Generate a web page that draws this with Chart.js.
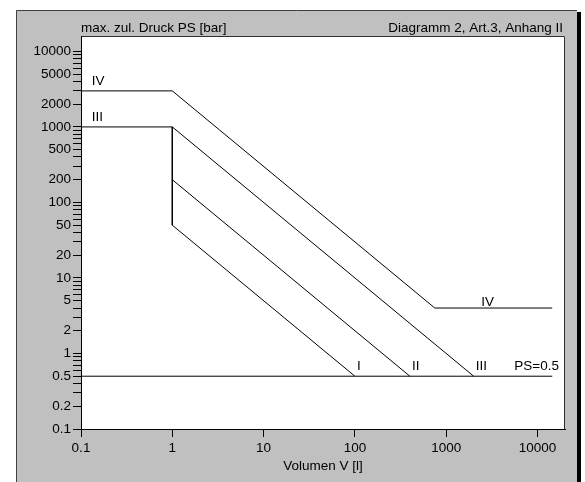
<!DOCTYPE html>
<html>
<head>
<meta charset="utf-8">
<script src="https://cdn.jsdelivr.net/npm/chart.js@4"></script>
<style>
  html, body { margin: 0; padding: 0; background: #fff; }
  canvas { display: block; }
</style>
</head>
<body>
<canvas id="diagramm" width="585" height="482"></canvas>
<script>
// Linien des Diagramms (Volumen V in l, Druck PS in bar)
const linieGrenzeX = [0.1, 14500]
const linieGrenzeY = [0.5, 0.5]
const kurveIX = [1, 100]
const kurveIY = [50, 0.5]
const kurveIIX = [1, 400]
const kurveIIY = [200, 0.5]
const kurveIIIX = [0.1, 1, 2000]
const kurveIIIY = [1000, 1000, 0.5]
const kurveIVX = [0.1, 1, 750, 14500]
const kurveIVY = [3000, 3000, 4, 4]
const senkrechtX = [1, 1]
const senkrechtY = [1000, 50]

// Beschriftungen der Kurven
const namen = ['IV', 'III', 'IV', 'I', 'II', 'III', 'PS=0.5']
const namenX = [0.125, 0.125, 2300, 100, 400, 2000, 5300]
const namenY = [3000, 1000, 3.5, 0.5, 0.5, 0.5, 0.5]

// Achsen
const xTicks = [0.1, 1, 10, 100, 1000, 10000]
const yDekaden = [0.1, 1, 10, 100, 1000]
const yMantissen = [1, 2, 3, 4, 5, 6, 7, 8, 9]
const yBeschriftet = [1, 2, 5]

const familie = "'Liberation Sans', Arial, sans-serif"
const schrift = "13.5px " + familie

function punkte(xs, ys){
  return xs.map((x, i) => ({x: x, y: ys[i]}))
}

function linie(xs, ys){
  return {
    data: punkte(xs, ys),
    borderColor: '#000',
    borderWidth: 1,
    pointRadius: 0,
    tension: 0,
    fill: false
  }
}

let yTickWerte = []
yDekaden.forEach((d) => {
  yMantissen.forEach((m) => {
    yTickWerte.push(parseFloat((m * d).toPrecision(3)))
  })
})
yTickWerte.push(10000)

// grauer Rahmen und weisse Zeichenflaeche
const hintergrund = {
  id: 'hintergrund',
  beforeDraw(chart){
    const ctx = chart.ctx
    const a = chart.chartArea
    ctx.save()
    ctx.fillStyle = '#fff'
    ctx.fillRect(0, 0, chart.width, chart.height)
    ctx.fillStyle = '#c0c0c0'
    ctx.fillRect(16, 10, 561, chart.height - 10)
    ctx.strokeStyle = '#404040'
    ctx.lineWidth = 1
    ctx.beginPath()
    ctx.moveTo(16.5, chart.height)
    ctx.lineTo(16.5, 10.5)
    ctx.lineTo(577, 10.5)
    ctx.stroke()
    ctx.fillStyle = '#000'
    ctx.fillRect(577, 12, 4, chart.height - 12)
    ctx.fillStyle = '#fff'
    ctx.fillRect(a.left, a.top, a.right - a.left, a.bottom - a.top)
    ctx.strokeStyle = '#303030'
    ctx.beginPath()
    ctx.moveTo(a.left, a.top + 0.5)
    ctx.lineTo(a.right - 0.5, a.top + 0.5)
    ctx.lineTo(a.right - 0.5, a.bottom)
    ctx.stroke()
    ctx.restore()
  }
}

// Texte: Titel und Kurvennamen
const texte = {
  id: 'texte',
  afterDatasetsDraw(chart){
    const ctx = chart.ctx
    const a = chart.chartArea
    const sx = chart.scales.x
    const sy = chart.scales.y
    ctx.save()
    ctx.font = schrift
    ctx.fillStyle = '#000'
    ctx.textBaseline = 'alphabetic'
    ctx.textAlign = 'left'
    ctx.fillText('max. zul. Druck PS [bar]', a.left, 32)
    ctx.textAlign = 'right'
    ctx.fillText('Diagramm 2, Art.3, Anhang II', a.right - 2, 32)
    ctx.textAlign = 'center'
    ctx.fillText('Volumen V [l]', (a.left + a.right) / 2, 470)
    ctx.textAlign = 'left'
    ctx.textBaseline = 'bottom'
    namen.forEach((n, i) => {
      const px = sx.getPixelForValue(namenX[i]) + 2
      const py = sy.getPixelForValue(namenY[i]) - 3
      ctx.fillText(n, px, py)
    })
    ctx.restore()
  }
}

new Chart(document.getElementById('diagramm'), {
  type: 'line',
  data: {
    datasets: [
      linie(linieGrenzeX, linieGrenzeY),
      linie(kurveIX, kurveIY),
      linie(kurveIIX, kurveIIY),
      linie(kurveIIIX, kurveIIIY),
      linie(kurveIVX, kurveIVY),
      linie(senkrechtX, senkrechtY)
    ]
  },
  options: {
    responsive: false,
    animation: false,
    devicePixelRatio: 1,
    layout: { padding: { left: 0, top: 36, right: 20, bottom: 0 } },
    plugins: {
      legend: { display: false },
      tooltip: { enabled: false }
    },
    scales: {
      x: {
        type: 'logarithmic',
        min: 0.1,
        max: 20000,
        afterFit(s){ s.height = 53 },
        afterBuildTicks(s){ s.ticks = xTicks.map(v => ({value: v})) },
        border: { display: true, color: '#000', width: 1 },
        grid: { drawOnChartArea: false, drawTicks: true, tickLength: 8, color: '#000' },
        ticks: {
          autoSkip: false,
          maxRotation: 0,
          padding: 3,
          color: '#000',
          font: { family: familie, size: 13.5 },
          callback: (v) => String(v)
        }
      },
      y: {
        type: 'logarithmic',
        min: 0.1,
        max: 16000,
        afterFit(s){ s.width = 81 },
        afterBuildTicks(s){ s.ticks = yTickWerte.map(v => ({value: v})) },
        border: { display: true, color: '#000', width: 1 },
        grid: { drawOnChartArea: false, drawTicks: true, tickLength: 8, color: '#000' },
        ticks: {
          autoSkip: false,
          padding: 2,
          color: '#000',
          font: { family: familie, size: 13.5 },
          callback: (v) => {
            const m = parseFloat((v / Math.pow(10, Math.floor(Math.log10(v) + 1e-9))).toPrecision(3))
            return yBeschriftet.includes(m) ? String(v) : ''
          }
        }
      }
    }
  },
  plugins: [hintergrund, texte]
})
</script>
</body>
</html>
